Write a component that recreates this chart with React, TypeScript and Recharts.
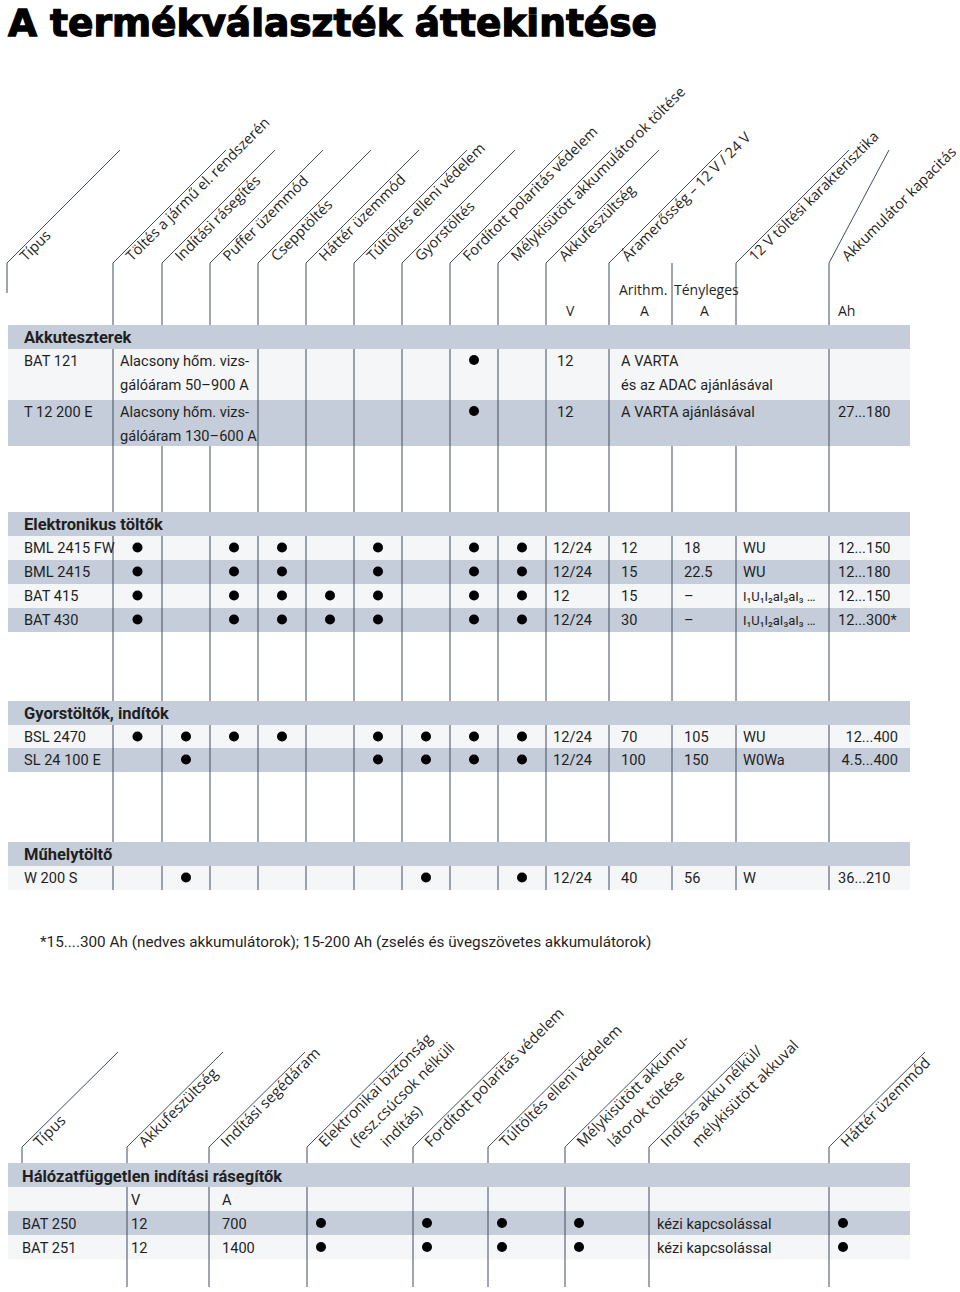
import React from "react";
import { ScatterChart, Scatter, XAxis, YAxis, ReferenceArea, ReferenceLine } from "recharts";

// ---------- data ----------
const TITLE = "A termékválaszték áttekintése";

const TOP_HEADERS = [
  "Típus",
  "Töltés a jármű el. rendszerén",
  "Indítási rásegítés",
  "Puffer üzemmód",
  "Csepptöltés",
  "Háttér üzemmód",
  "Túltöltés elleni védelem",
  "Gyorstöltés",
  "Fordított polaritás védelem",
  "Mélykisütött akkumulátorok töltése",
  "Akkufeszültség",
  "Áramerősség – 12 V / 24 V",
  "12 V töltési karakterisztika",
  "Akkumulátor kapacitás",
];
const TOP_SUBHEADERS = ["Arithm.", "Tényleges"];
const TOP_UNITS = ["V", "A", "A", "Ah"];

const SECTIONS = ["Akkuteszterek", "Elektronikus töltők", "Gyorstöltők, indítók", "Műhelytöltő"];

// Akkuteszterek
const TESTER_MODELS = ["BAT 121", "T 12 200 E"];
const TESTER_DESC = [
  ["Alacsony hőm. vizs-", "gálóáram 50–900 A"],
  ["Alacsony hőm. vizs-", "gálóáram 130–600 A"],
];
const TESTER_FEATURES = [
  [0, 0, 0, 0, 0, 0, 0, 1, 0],
  [0, 0, 0, 0, 0, 0, 0, 1, 0],
];
const TESTER_VOLTAGE = ["12", "12"];
const TESTER_NOTE = [["A VARTA", "és az ADAC ajánlásával"], ["A VARTA ajánlásával"]];
const TESTER_CAPACITY = ["", "27...180"];

// Elektronikus töltők
const CHARGER_MODELS = ["BML 2415 FW", "BML 2415", "BAT 415", "BAT 430"];
const CHARGER_FEATURES = [
  [1, 0, 1, 1, 0, 1, 0, 1, 1],
  [1, 0, 1, 1, 0, 1, 0, 1, 1],
  [1, 0, 1, 1, 1, 1, 0, 1, 1],
  [1, 0, 1, 1, 1, 1, 0, 1, 1],
];
const CHARGER_VOLTAGE = ["12/24", "12/24", "12", "12/24"];
const CHARGER_ARITH = ["12", "15", "15", "30"];
const CHARGER_ACTUAL = ["18", "22.5", "–", "–"];
const CHARGER_CURVE = ["WU", "WU", "I₁U₁I₂aI₃aI₃ …", "I₁U₁I₂aI₃aI₃ …"];
const CHARGER_CAPACITY = ["12...150", "12...180", "12...150", "12...300*"];

// Gyorstöltők, indítók
const FAST_MODELS = ["BSL 2470", "SL 24 100 E"];
const FAST_FEATURES = [
  [1, 1, 1, 1, 0, 1, 1, 1, 1],
  [0, 1, 0, 0, 0, 1, 1, 1, 1],
];
const FAST_VOLTAGE = ["12/24", "12/24"];
const FAST_ARITH = ["70", "100"];
const FAST_ACTUAL = ["105", "150"];
const FAST_CURVE = ["WU", "W0Wa"];
const FAST_CAPACITY = ["12...400", "4.5...400"];

// Műhelytöltő
const WORKSHOP_MODELS = ["W 200 S"];
const WORKSHOP_FEATURES = [[0, 1, 0, 0, 0, 0, 1, 0, 1]];
const WORKSHOP_VOLTAGE = ["12/24"];
const WORKSHOP_ARITH = ["40"];
const WORKSHOP_ACTUAL = ["56"];
const WORKSHOP_CURVE = ["W"];
const WORKSHOP_CAPACITY = ["36...210"];

const FOOTNOTE = "*15....300 Ah (nedves akkumulátorok); 15-200 Ah (zselés és üvegszövetes akkumulátorok)";

// Hálózatfüggetlen indítási rásegítők
const BOOSTER_HEADERS = [
  ["Típus"],
  ["Akkufeszültség"],
  ["Indítási segédáram"],
  ["Elektronikai biztonság", "(fesz.csúcsok nélküli", "indítás)"],
  ["Fordított polaritás védelem"],
  ["Túltöltés elleni védelem"],
  ["Mélykisütött akkumu-", "látorok töltése"],
  ["Indítás akku nélkül/", "mélykisütött akkuval"],
  ["Háttér üzemmód"],
];
const BOOSTER_SECTION = "Hálózatfüggetlen indítási rásegítők";
const BOOSTER_UNITS = ["V", "A"];
const BOOSTER_MODELS = ["BAT 250", "BAT 251"];
const BOOSTER_VOLTAGE = ["12", "12"];
const BOOSTER_CURRENT = ["700", "1400"];
const BOOSTER_FEATURES = [
  [1, 1, 1, 1],
  [1, 1, 1, 1],
];
const BOOSTER_START = ["kézi kapcsolással", "kézi kapcsolással"];
const BOOSTER_BACKUP = [1, 1];

// ---------- layout ----------
const W = 960;
const H = 1292;
const TL = 8;
const TR = 910;
const BAND_H = 24;
const LINE = "#3f4d60";
const DARK = "#c4cdd9";
const LIGHT = "#f5f6f8";
const INK = "#1f1f1f";

const TOP_LINES = [113, 162, 210, 258, 306, 354, 402, 450, 498, 546, 609, 672, 736, 829];
const TOP_ANCHORS = [7, 113, 162, 210, 258, 306, 354, 402, 450, 498, 546, 609, 736, 829];
const TOP_HEAD_Y = 263;
const TOP_DIAG_Y = 150;
const MERGED = [162, 210, 672, 736];
const VALUE_X = [553, 621, 684, 743, 838];

const SECTION_LAYOUT = [
  { band: 325, rows: [349, 400], rowH: [51, 46] },
  { band: 512, rows: [536, 560, 584, 608], rowH: [24, 24, 24, 24] },
  { band: 701, rows: [725, 748], rowH: [23, 24] },
  { band: 842, rows: [866], rowH: [24] },
];

const BOT_LINES = [127, 209, 307, 413, 488, 565, 649, 829];
const BOT_ANCHORS = [22, ...BOT_LINES];
const BOT_HEAD_Y = 1147;
const BOT_DIAG_Y = 1052;
const BOT_BAND = 1163;
const BOT_ROWS = [1187, 1211, 1235];
const BOT_END = 1287;

const BODY_FONT = "Roboto, 'DejaVu Sans', sans-serif";
const HEAD_FONT = "'Open Sans', 'Noto Sans', sans-serif";

const STYLES: Record<string, any> = {
  title: {
    fontSize: 38,
    fontWeight: 700,
    fontFamily: "'DejaVu Sans', sans-serif",
    textLength: 649,
    stroke: "#000",
    strokeWidth: 1.3,
    fill: "#000",
  },
  head: { fontSize: 14.5, fontFamily: HEAD_FONT, rot: true },
  head2: { fontSize: 15, fontFamily: HEAD_FONT, rot: true },
  sub: { fontSize: 14, fontFamily: HEAD_FONT },
  cell: { fontSize: 14.6, fontFamily: BODY_FONT },
  note: { fontSize: 15.3, fontFamily: BODY_FONT },
  small: { fontSize: 13, fontFamily: BODY_FONT },
  section: { fontSize: 16.5, fontWeight: 700, fontFamily: BODY_FONT },
};

// ---------- build marks ----------
type TextPt = { x: number; y: number; text: string; style: string; anchor?: string };
type Dot = { x: number; y: number };

const texts: TextPt[] = [];
const dots: Dot[] = [];
const areas: { y1: number; y2: number; fill: string }[] = [];
const segs: number[][] = [];

texts.push({ x: 8, y: 36, text: TITLE, style: "title" });

// top header
TOP_HEADERS.forEach((h, i) => {
  const ax = TOP_ANCHORS[i];
  texts.push({ x: ax + 19, y: 262, text: h, style: "head" });
  const last = i === TOP_HEADERS.length - 1;
  segs.push([ax, TOP_HEAD_Y, last ? ax + 60 : ax + 113, TOP_DIAG_Y]);
});
segs.push([7, TOP_HEAD_Y, 7, 293]);
texts.push({ x: 619, y: 295, text: TOP_SUBHEADERS[0], style: "sub" });
texts.push({ x: 674, y: 295, text: TOP_SUBHEADERS[1], style: "sub" });
[566, 640, 700, 838].forEach((x, i) => texts.push({ x, y: 316, text: TOP_UNITS[i], style: "sub" }));

const colCenter = (i: number) => (TOP_LINES[i] + TOP_LINES[i + 1]) / 2;

// vertical lines of the upper table
TOP_LINES.forEach((x) => {
  segs.push([x, TOP_HEAD_Y, x, 325]);
  segs.push([x, MERGED.includes(x) ? 446 : 349, x, 512]);
  segs.push([x, 536, x, 701]);
  segs.push([x, 725, x, 842]);
  segs.push([x, 866, x, 890]);
});

SECTION_LAYOUT.forEach((s, si) => {
  areas.push({ y1: s.band, y2: s.band + BAND_H, fill: DARK });
  texts.push({ x: 24, y: s.band + 18, text: SECTIONS[si], style: "section" });
  s.rows.forEach((top, ri) => {
    areas.push({ y1: top, y2: top + s.rowH[ri], fill: ri % 2 === 0 ? LIGHT : DARK });
  });
});

// Akkuteszterek rows
TESTER_MODELS.forEach((m, r) => {
  const top = SECTION_LAYOUT[0].rows[r];
  const b = top + 17;
  texts.push({ x: 24, y: b, text: m, style: "cell" });
  TESTER_DESC[r].forEach((d, k) => texts.push({ x: 120, y: b + 24 * k, text: d, style: "cell" }));
  TESTER_FEATURES[r].forEach((f, c) => f && dots.push({ x: colCenter(c), y: b - 6 }));
  texts.push({ x: 557, y: b, text: TESTER_VOLTAGE[r], style: "cell" });
  TESTER_NOTE[r].forEach((d, k) => texts.push({ x: 621, y: b + 24 * k, text: d, style: "cell" }));
  if (TESTER_CAPACITY[r]) texts.push({ x: 838, y: b, text: TESTER_CAPACITY[r], style: "cell" });
});

function chargerRows(
  si: number,
  models: string[],
  features: number[][],
  cols: string[][],
  capEnd: boolean
) {
  models.forEach((m, r) => {
    const top = SECTION_LAYOUT[si].rows[r];
    const b = top + 17;
    texts.push({ x: 24, y: b, text: m, style: "cell" });
    features[r].forEach((f, c) => f && dots.push({ x: colCenter(c), y: top + 11.5 }));
    cols.forEach((col, k) => {
      const v = col[r];
      const isCap = k === 4;
      texts.push({
        x: isCap && capEnd ? 898 : VALUE_X[k],
        y: b,
        text: v,
        style: v.startsWith("I₁") ? "small" : "cell",
        anchor: isCap && capEnd ? "end" : "start",
      });
    });
  });
}
chargerRows(1, CHARGER_MODELS, CHARGER_FEATURES,
  [CHARGER_VOLTAGE, CHARGER_ARITH, CHARGER_ACTUAL, CHARGER_CURVE, CHARGER_CAPACITY], false);
chargerRows(2, FAST_MODELS, FAST_FEATURES,
  [FAST_VOLTAGE, FAST_ARITH, FAST_ACTUAL, FAST_CURVE, FAST_CAPACITY], true);
chargerRows(3, WORKSHOP_MODELS, WORKSHOP_FEATURES,
  [WORKSHOP_VOLTAGE, WORKSHOP_ARITH, WORKSHOP_ACTUAL, WORKSHOP_CURVE, WORKSHOP_CAPACITY], false);

texts.push({ x: 40, y: 947, text: FOOTNOTE, style: "note" });

// lower table
BOOSTER_HEADERS.forEach((lines, i) => {
  const ax = BOT_ANCHORS[i];
  lines.forEach((l, k) => texts.push({ x: ax + 18 + 31 * k, y: 1148, text: l, style: "head2" }));
  segs.push([ax, BOT_HEAD_Y, ax + 96, BOT_DIAG_Y]);
  segs.push([ax, BOT_HEAD_Y, ax, BOT_BAND]);
});
BOT_LINES.forEach((x) => segs.push([x, BOT_BAND + BAND_H, x, BOT_END]));

areas.push({ y1: BOT_BAND, y2: BOT_BAND + BAND_H, fill: DARK });
texts.push({ x: 22, y: BOT_BAND + 19, text: BOOSTER_SECTION, style: "section" });
BOT_ROWS.forEach((top, i) => areas.push({ y1: top, y2: top + 24.5, fill: i === 1 ? DARK : LIGHT }));
texts.push({ x: 131, y: BOT_ROWS[0] + 18, text: BOOSTER_UNITS[0], style: "cell" });
texts.push({ x: 222, y: BOT_ROWS[0] + 18, text: BOOSTER_UNITS[1], style: "cell" });

const BOOSTER_FEATURE_COLS = [307, 413, 488, 565];
BOOSTER_MODELS.forEach((m, r) => {
  const top = BOT_ROWS[r + 1];
  const b = top + 18;
  texts.push({ x: 22, y: b, text: m, style: "cell" });
  texts.push({ x: 131, y: b, text: BOOSTER_VOLTAGE[r], style: "cell" });
  texts.push({ x: 222, y: b, text: BOOSTER_CURRENT[r], style: "cell" });
  BOOSTER_FEATURES[r].forEach((f, c) => f && dots.push({ x: BOOSTER_FEATURE_COLS[c] + 14, y: top + 12 }));
  texts.push({ x: 657, y: b, text: BOOSTER_START[r], style: "cell" });
  if (BOOSTER_BACKUP[r]) dots.push({ x: 843, y: top + 12 });
});

// ---------- shapes ----------
const renderText = (props: any) => {
  const { cx, cy, payload } = props;
  const s = STYLES[payload.style];
  return (
    <text
      x={cx}
      y={cy}
      fill={s.fill || INK}
      stroke={s.stroke}
      strokeWidth={s.strokeWidth}
      fontSize={s.fontSize}
      fontWeight={s.fontWeight || 400}
      fontFamily={s.fontFamily}
      textAnchor={payload.anchor || "start"}
      textLength={s.textLength}
      lengthAdjust={s.textLength ? "spacingAndGlyphs" : undefined}
      transform={s.rot ? `rotate(-45 ${cx} ${cy})` : undefined}
    >
      {payload.text}
    </text>
  );
};

const renderDot = (props: any) => <circle cx={props.cx} cy={props.cy} r={5} fill="#000" />;

export default function App() {
  return (
    <div style={{ position: "absolute", left: 0, top: 0, width: W, height: H, background: "#fff" }}>
      <ScatterChart width={W} height={H} margin={{ top: 0, right: 0, bottom: 0, left: 0 }}>
        <XAxis type="number" dataKey="x" domain={[0, W]} hide allowDataOverflow />
        <YAxis type="number" dataKey="y" domain={[0, H]} reversed hide allowDataOverflow />
        {areas.map((a, i) => (
          <ReferenceArea
            key={`a${i}`}
            x1={TL}
            x2={TR}
            y1={a.y1}
            y2={a.y2}
            fill={a.fill}
            fillOpacity={1}
            stroke="none"
          />
        ))}
        {segs.map((s, i) => (
          <ReferenceLine
            key={`l${i}`}
            segment={[
              { x: s[0], y: s[1] },
              { x: s[2], y: s[3] },
            ]}
            stroke={LINE}
            strokeWidth={1}
          />
        ))}
        <Scatter data={dots} shape={renderDot} isAnimationActive={false} />
        <Scatter data={texts} shape={renderText} isAnimationActive={false} />
      </ScatterChart>
    </div>
  );
}
